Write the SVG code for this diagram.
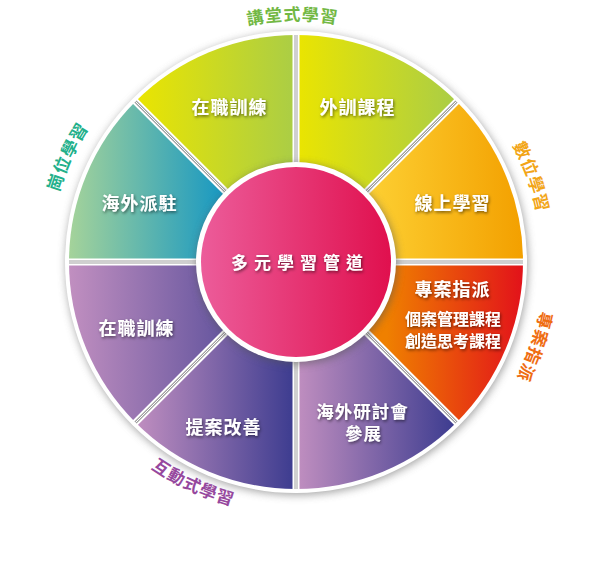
<svg xmlns="http://www.w3.org/2000/svg" width="593" height="573" viewBox="0 0 593 573">
<style>
.wl{font-family:"Noto Sans CJK TC","Noto Sans CJK SC",sans-serif;font-weight:700;fill:#fff;text-anchor:middle;filter:url(#ts)}
.ol{font-family:"Noto Sans CJK TC","Noto Sans CJK SC",sans-serif;font-weight:700;font-size:17px;letter-spacing:1px}
.sepW{stroke:#fff;stroke-width:7}
.sepG{stroke:#a0a0a0;stroke-width:3}
.sepI{stroke:#fff;stroke-width:1}
</style>
<defs>
<filter id="ts" x="-20%" y="-50%" width="140%" height="200%">
<feDropShadow dx="1" dy="1.5" stdDeviation="1.5" flood-color="#000" flood-opacity="0.55"/>
</filter>
<filter id="blur" x="-10%" y="-10%" width="120%" height="120%">
<feGaussianBlur stdDeviation="4"/>
</filter>
<linearGradient id="gYG" x1="0" y1="0" x2="1" y2="0">
<stop offset="0" stop-color="#ebe500"/><stop offset="1" stop-color="#aacd46"/>
</linearGradient>
<linearGradient id="gYO" x1="0" y1="0" x2="1" y2="0">
<stop offset="0.3" stop-color="#fdd134"/><stop offset="1" stop-color="#f3a000"/>
</linearGradient>
<linearGradient id="gOR" x1="0" y1="0" x2="1" y2="0">
<stop offset="0.4" stop-color="#ef8000"/><stop offset="1" stop-color="#e2121a"/>
</linearGradient>
<linearGradient id="gPU" x1="0" y1="0" x2="1" y2="0">
<stop offset="0" stop-color="#c18fc0"/><stop offset="1" stop-color="#3b3b8f"/>
</linearGradient>
<linearGradient id="gGT" x1="0" y1="0" x2="1" y2="0">
<stop offset="0" stop-color="#a5d39a"/><stop offset="0.68" stop-color="#1898c2"/><stop offset="1" stop-color="#0b8ec8"/>
</linearGradient>
<linearGradient id="gPK" x1="0" y1="0" x2="1" y2="0">
<stop offset="0" stop-color="#ec5c9a"/><stop offset="1" stop-color="#e0104e"/>
</linearGradient>
<path id="pTop" d="M296,503.5 A241.5 241.5 0 1 1 296,20.5 A241.5 241.5 0 1 1 296,503.5"/>
<path id="pSW" d="M296,508 A246 246 0 1 1 296,16 A246 246 0 1 1 296,508"/>
<path id="pZA" d="M296,511 A249 249 0 1 1 296,13 A249 249 0 1 1 296,511"/>
<path id="pGW" d="M296,509 A247 247 0 1 1 296,15 A247 247 0 1 1 296,509"/>
<path id="pHD" d="M296,10 A252 252 0 1 0 296,514 A252 252 0 1 0 296,10"/>
</defs>

<g id="ring">
<circle cx="297" cy="264" r="231" fill="#8c8c8c" filter="url(#blur)" opacity="0.8"/>
<circle cx="296" cy="262" r="231" fill="#fff"/>
</g>

<g id="wedge-tl">
<path d="M296,262 L135.49,101.49 A227 227 0 0 1 296,35 Z" fill="url(#gYG)"/>
<text class="wl" x="229.5" y="113.5" font-size="18" letter-spacing="1">在職訓練</text>
</g>
<g id="wedge-tr">
<path d="M296,262 L296,35 A227 227 0 0 1 456.51,101.49 Z" fill="url(#gYG)"/>
<text class="wl" x="357.5" y="113.5" font-size="18" letter-spacing="1">外訓課程</text>
</g>
<g id="wedge-ru">
<path d="M296,262 L456.51,101.49 A227 227 0 0 1 523,262 Z" fill="url(#gYO)"/>
<text class="wl" x="452.5" y="209.5" font-size="18" letter-spacing="1">線上學習</text>
</g>
<g id="wedge-rl">
<path d="M296,262 L523,262 A227 227 0 0 1 456.51,422.51 Z" fill="url(#gOR)"/>
<text class="wl" x="452.5" y="295.5" font-size="18" letter-spacing="1">專案指派</text>
<text class="wl" font-size="16"><tspan x="453" y="325">個案管理課程</tspan><tspan x="453" y="347">創造思考課程</tspan></text>
</g>
<g id="wedge-br">
<path d="M296,262 L456.51,422.51 A227 227 0 0 1 296,489 Z" fill="url(#gPU)"/>
<text class="wl" font-size="17.5" letter-spacing="1"><tspan x="362.5" y="417.5">海外研討會</tspan><tspan x="363.5" y="440">參展</tspan></text>
</g>
<g id="wedge-bl">
<path d="M296,262 L296,489 A227 227 0 0 1 135.49,422.51 Z" fill="url(#gPU)"/>
<text class="wl" x="223.5" y="433.5" font-size="18" letter-spacing="1">提案改善</text>
</g>
<g id="wedge-ll">
<path d="M296,262 L135.49,422.51 A227 227 0 0 1 69,262 Z" fill="url(#gPU)"/>
<text class="wl" x="136.5" y="334.5" font-size="18" letter-spacing="1">在職訓練</text>
</g>
<g id="wedge-lu">
<path d="M296,262 L69,262 A227 227 0 0 1 135.49,101.49 Z" fill="url(#gGT)"/>
<text class="wl" x="139.5" y="209.5" font-size="18" letter-spacing="1">海外派駐</text>
</g>

<g id="separators">
<g class="sepW">
<line x1="296" y1="262" x2="296" y2="33"/>
<line x1="296" y1="262" x2="457.9" y2="100.1"/>
<line x1="296" y1="262" x2="525" y2="262"/>
<line x1="296" y1="262" x2="457.9" y2="423.9"/>
<line x1="296" y1="262" x2="296" y2="491"/>
<line x1="296" y1="262" x2="134.1" y2="423.9"/>
<line x1="296" y1="262" x2="67" y2="262"/>
<line x1="296" y1="262" x2="134.1" y2="100.1"/>
</g>
<g class="sepG">
<line x1="296" y1="262" x2="296" y2="35"/>
<line x1="296" y1="262" x2="456.5" y2="101.5"/>
<line x1="296" y1="262" x2="523" y2="262"/>
<line x1="296" y1="262" x2="456.5" y2="422.5"/>
<line x1="296" y1="262" x2="296" y2="489"/>
<line x1="296" y1="262" x2="135.5" y2="422.5"/>
<line x1="296" y1="262" x2="69" y2="262"/>
<line x1="296" y1="262" x2="135.5" y2="101.5"/>
</g>
<g class="sepI">
<line x1="296" y1="262" x2="296" y2="35"/>
<line x1="296" y1="262" x2="456.5" y2="101.5"/>
<line x1="296" y1="262" x2="523" y2="262"/>
<line x1="296" y1="262" x2="456.5" y2="422.5"/>
<line x1="296" y1="262" x2="296" y2="489"/>
<line x1="296" y1="262" x2="135.5" y2="422.5"/>
<line x1="296" y1="262" x2="69" y2="262"/>
<line x1="296" y1="262" x2="135.5" y2="101.5"/>
</g>
</g>

<g id="center">
<circle cx="297" cy="264" r="100" fill="#555" filter="url(#blur)" opacity="0.6"/>
<circle cx="296" cy="262" r="100" fill="#fff"/>
<circle cx="296" cy="262" r="95" fill="url(#gPK)"/>
<text class="wl" x="300" y="268.5" font-size="17" letter-spacing="6">多元學習管道</text>
</g>

<g id="outer-labels">
<text class="ol" fill="#72b843" text-anchor="middle"><textPath href="#pTop" startOffset="49.77%">講堂式學習</textPath></text>
<text class="ol" fill="#f2a516" text-anchor="middle"><textPath href="#pSW" startOffset="69.47%">數位學習</textPath></text>
<text class="ol" fill="#ef6d12" text-anchor="middle"><textPath href="#pZA" startOffset="80.44%">專案指派</textPath></text>
<text class="ol" fill="#22b08a" text-anchor="middle"><textPath href="#pGW" startOffset="31.86%">崗位學習</textPath></text>
<text class="ol" fill="#96489e" text-anchor="middle"><textPath href="#pHD" startOffset="43.08%">互動式學習</textPath></text>
</g>
</svg>
